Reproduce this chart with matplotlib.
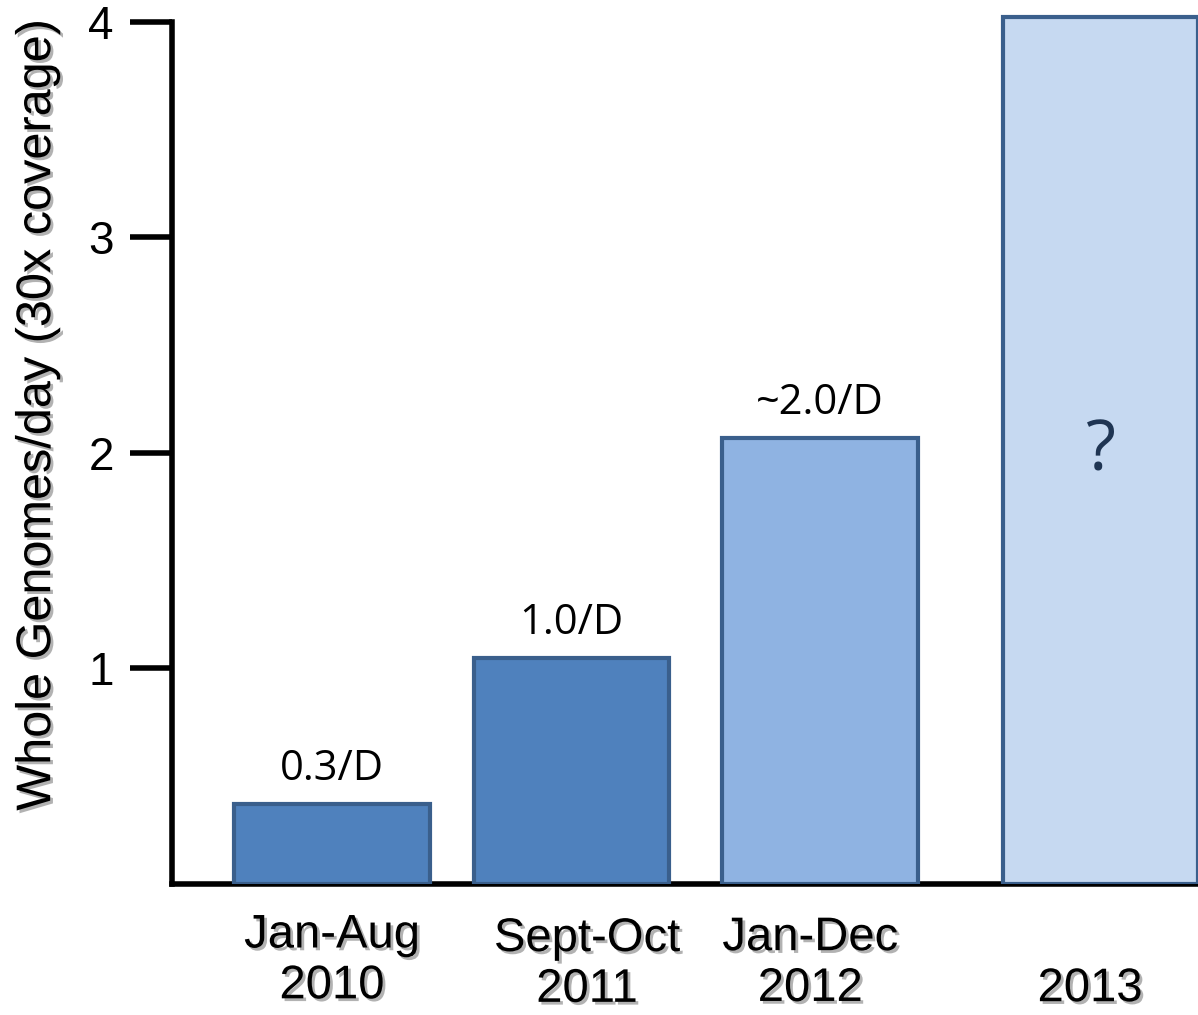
"""Whole genomes per day bar chart"""
import matplotlib
matplotlib.use('Agg')
import matplotlib.pyplot as plt
import matplotlib.patheffects as pe
from matplotlib.transforms import blended_transform_factory

plt.rcParams['font.family'] = ['Liberation Sans', 'DejaVu Sans']

# data
periods = ['Jan-Aug\n2010', 'Sept-Oct\n2011', 'Jan-Dec\n2012', '2013']
genomes_per_day = [0.37, 1.05, 2.07, 4.02]
bar_labels = ['0.3/D', '1.0/D', '~2.0/D', '?']
y_ticks = [1, 2, 3, 4]

# layout (bar centres and label offsets are uneven in the original)
x_pos = [0, 0.98, 2.0, 3.15]
label_x = [0, 1.045, 1.96, 3.107]
label_y = [-0.087, -0.091, -0.090, -0.119]
fills = ['#4F81BD', '#4F81BD', '#8FB3E2', '#C6D9F1']
edge = '#3A5F8C'

fig = plt.figure(figsize=(11.98, 10.15), dpi=100)
ax = fig.add_axes([172 / 1198, 131 / 1015, 1 - 172 / 1198, 1 - 131 / 1015])

ax.bar(x_pos, genomes_per_day, width=0.8, color=fills, edgecolor=edge, linewidth=3, zorder=3)

ax.set_xlim(-0.656, 3.549)
ax.set_ylim(0, 4.10)

ax.spines['top'].set_visible(False)
ax.spines['right'].set_visible(False)
ax.spines['left'].set_linewidth(4)
ax.spines['bottom'].set_linewidth(4)
ax.spines['left'].set_bounds(0, 4)

ax.set_yticks(y_ticks)
ax.set_yticklabels([str(t) for t in y_ticks], fontsize=33)
ax.tick_params(axis='y', length=30, width=4, direction='out', pad=12)
ax.set_xticks([])

shadow = [pe.withSimplePatchShadow(offset=(2, -2), shadow_rgbFace='#808080', alpha=0.6)]
ax.set_ylabel('Whole Genomes/day (30x coverage)', fontsize=35, path_effects=shadow)
ax.yaxis.set_label_coords(-0.109, 0.531)

# category labels under the axis
trans = blended_transform_factory(ax.transData, ax.transAxes)
for x, y, lab in zip(label_x, label_y, periods):
    ax.text(x, y, lab, transform=trans, ha='center', va='center', fontsize=34,
            linespacing=1.2, path_effects=shadow, clip_on=False)

# value labels above the bars
for x, v, lab in zip(x_pos[:3], genomes_per_day[:3], bar_labels[:3]):
    ax.text(x, v + 0.065, lab, ha='center', va='bottom', fontsize=30,
            family=['Open Sans', 'DejaVu Sans'])
ax.text(x_pos[3], 2.0, bar_labels[3], ha='center', va='center', fontsize=50,
        color='#1F3553', family=['Open Sans', 'DejaVu Sans'])

fig.savefig('out.png', dpi=100)
plt.close(fig)
